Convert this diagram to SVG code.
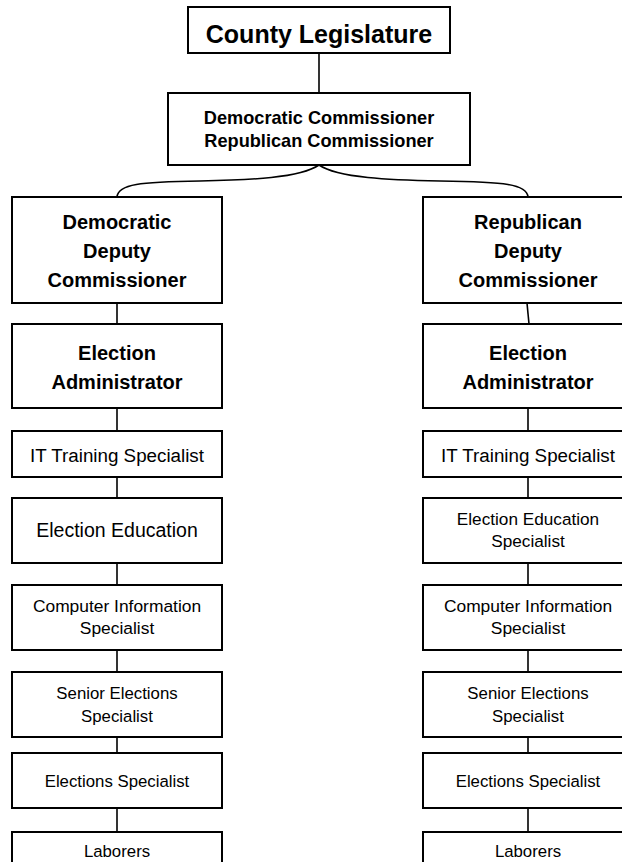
<svg xmlns="http://www.w3.org/2000/svg" width="622" height="862" viewBox="0 0 622 862">
<style>
.box{fill:#fff;stroke:#000;stroke-width:2}
.con{fill:none;stroke:#000;stroke-width:1.6}
text{font-family:"Liberation Sans",Arial,sans-serif;fill:#000;text-anchor:middle}
.b{font-weight:bold}
</style>
<rect width="622" height="862" fill="#fff"/>
<g id="connectors">
<line class="con" x1="319" y1="53" x2="319" y2="93"/>
<path class="con" d="M319,165 C300,178 250,180 200,181 C140,182 118,184 117,197"/>
<path class="con" d="M319,165 C338,178 390,180 440,181 C505,182 527,184 528,197"/>
<line class="con" x1="117" y1="303" x2="117" y2="324"/>
<line class="con" x1="117" y1="408" x2="117" y2="431"/>
<line class="con" x1="117" y1="477" x2="117" y2="498"/>
<line class="con" x1="117" y1="563" x2="117" y2="585"/>
<line class="con" x1="117" y1="650" x2="117" y2="672"/>
<line class="con" x1="117" y1="737" x2="117" y2="753"/>
<line class="con" x1="117" y1="808" x2="117" y2="832"/>
<line class="con" x1="527" y1="303" x2="529" y2="324"/>
<line class="con" x1="528" y1="408" x2="528" y2="431"/>
<line class="con" x1="528" y1="477" x2="528" y2="498"/>
<line class="con" x1="528" y1="563" x2="528" y2="585"/>
<line class="con" x1="528" y1="650" x2="528" y2="672"/>
<line class="con" x1="528" y1="737" x2="528" y2="753"/>
<line class="con" x1="528" y1="808" x2="528" y2="832"/>
</g>
<g id="county-legislature">
<rect class="box" x="188" y="7" width="262" height="46"/>
<text class="b" x="319" y="43" font-size="25">County Legislature</text>
</g>
<g id="commissioners">
<rect class="box" x="168" y="93" width="302" height="72"/>
<text class="b" x="319" y="124" font-size="18.2">Democratic Commissioner</text>
<text class="b" x="319" y="147" font-size="18.2">Republican Commissioner</text>
</g>
<g id="dem-deputy">
<rect class="box" x="12" y="197" width="210" height="106"/>
<text class="b" x="117" y="229" font-size="20">Democratic</text>
<text class="b" x="117" y="258" font-size="20">Deputy</text>
<text class="b" x="117" y="287" font-size="20">Commissioner</text>
</g>
<g id="rep-deputy">
<rect class="box" x="423" y="197" width="210" height="106"/>
<text class="b" x="528" y="229" font-size="20">Republican</text>
<text class="b" x="528" y="258" font-size="20">Deputy</text>
<text class="b" x="528" y="287" font-size="20">Commissioner</text>
</g>
<g id="dem-admin">
<rect class="box" x="12" y="324" width="210" height="84"/>
<text class="b" x="117" y="360" font-size="20">Election</text>
<text class="b" x="117" y="389" font-size="20">Administrator</text>
</g>
<g id="rep-admin">
<rect class="box" x="423" y="324" width="210" height="84"/>
<text class="b" x="528" y="360" font-size="20">Election</text>
<text class="b" x="528" y="389" font-size="20">Administrator</text>
</g>
<g id="dem-it">
<rect class="box" x="12" y="431" width="210" height="46"/>
<text x="117" y="462" font-size="18.8">IT Training Specialist</text>
</g>
<g id="rep-it">
<rect class="box" x="423" y="431" width="210" height="46"/>
<text x="528" y="462" font-size="18.8">IT Training Specialist</text>
</g>
<g id="dem-education">
<rect class="box" x="12" y="498" width="210" height="65"/>
<text x="117" y="537" font-size="19.5">Election Education</text>
</g>
<g id="rep-education">
<rect class="box" x="423" y="498" width="210" height="65"/>
<text x="528" y="525" font-size="17.2">Election Education</text>
<text x="528" y="547" font-size="17.2">Specialist</text>
</g>
<g id="dem-computer">
<rect class="box" x="12" y="585" width="210" height="65"/>
<text x="117" y="612" font-size="17.4">Computer Information</text>
<text x="117" y="634" font-size="17.4">Specialist</text>
</g>
<g id="rep-computer">
<rect class="box" x="423" y="585" width="210" height="65"/>
<text x="528" y="612" font-size="17.4">Computer Information</text>
<text x="528" y="634" font-size="17.4">Specialist</text>
</g>
<g id="dem-senior">
<rect class="box" x="12" y="672" width="210" height="65"/>
<text x="117" y="699" font-size="16.8">Senior Elections</text>
<text x="117" y="722" font-size="16.8">Specialist</text>
</g>
<g id="rep-senior">
<rect class="box" x="423" y="672" width="210" height="65"/>
<text x="528" y="699" font-size="16.8">Senior Elections</text>
<text x="528" y="722" font-size="16.8">Specialist</text>
</g>
<g id="dem-elections">
<rect class="box" x="12" y="753" width="210" height="55"/>
<text x="117" y="787" font-size="16.8">Elections Specialist</text>
</g>
<g id="rep-elections">
<rect class="box" x="423" y="753" width="210" height="55"/>
<text x="528" y="787" font-size="16.8">Elections Specialist</text>
</g>
<g id="dem-laborers">
<rect class="box" x="12" y="832" width="210" height="45"/>
<text x="117" y="857" font-size="16.8">Laborers</text>
</g>
<g id="rep-laborers">
<rect class="box" x="423" y="832" width="210" height="45"/>
<text x="528" y="857" font-size="16.8">Laborers</text>
</g>
</svg>
